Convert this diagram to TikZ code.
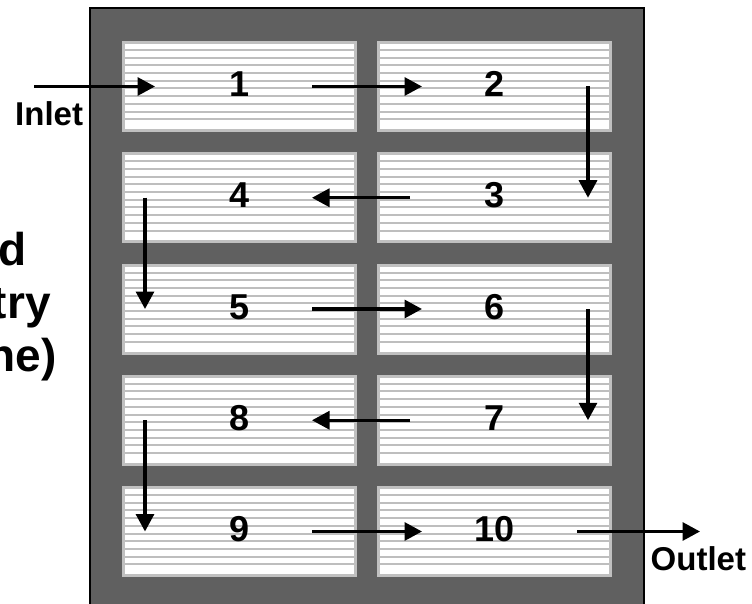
\documentclass[tikz,border=0pt]{standalone}
\usepackage{fontspec}
\setmainfont{Liberation Sans}
\usetikzlibrary{arrows.meta}
\definecolor{panel}{HTML}{606060}
\definecolor{boxgray}{HTML}{C0C0C0}
\definecolor{stripegray}{HTML}{BEBEBE}
\begin{document}
\begin{tikzpicture}[x=1pt,y=-1pt,
  stripe/.style={draw=stripegray, line width=2pt},
  cell/.style={draw=boxgray, line width=3pt, fill=white, minimum width=232pt,
    minimum height=88pt, inner sep=0pt,
    path picture={\foreach \k in {0,...,9}{\pgfmathsetmacro\yy{7.5+7.7*\k}
      \draw[stripe] ([yshift=-\yy pt]path picture bounding box.north west) --
        ([yshift=-\yy pt]path picture bounding box.north east);}}},
  num/.style={anchor=base, inner sep=0pt, font=\fontsize{36}{40}\selectfont\bfseries},
  lbl/.style={inner sep=0pt, font=\fontsize{33}{36}\selectfont\bfseries},
  side/.style={inner sep=0pt, anchor=base east, font=\fontsize{46}{50}\selectfont\bfseries},
  flow/.style={line width=3.2pt, -{Triangle[length=17.5pt,width=18pt]}}]
\useasboundingbox (0,0) rectangle (752,604);
\clip (0,0) rectangle (752,604);
\draw[fill=panel, line width=2pt] (89.5,8.5) rectangle (643.5,640);
\foreach \n/\cx/\cy in {1/239.5/86.5, 2/494.5/86.5, 3/494.5/197.75, 4/239.5/197.75,
  5/239.5/309, 6/494.5/309, 7/494.5/420.25, 8/239.5/420.25, 9/239.5/531.5, 10/494.5/531.5}{
  \node[cell] (b\n) at (\cx,\cy) {};
  \node[num] (t\n) at ([yshift=-10pt]b\n.center) {\n};
}
\coordinate (inS) at (34,86.5);
\coordinate (outE) at (700,531.5);
\draw[flow] (inS) -- ([xshift=-84.5pt]b1.center);
\draw[flow] ([xshift=72.5pt]b1.center) -- ([xshift=-72.5pt]b2.center);
\draw[flow] ([xshift=93.5pt]b2.center) -- ([xshift=93.5pt]b3.center);
\draw[flow] ([xshift=-84.5pt]b3.center) -- ([xshift=72.5pt]b4.center);
\draw[flow] ([xshift=-94.5pt]b4.center) -- ([xshift=-94.5pt]b5.center);
\draw[flow] ([xshift=72.5pt]b5.center) -- ([xshift=-72.5pt]b6.center);
\draw[flow] ([xshift=93.5pt]b6.center) -- ([xshift=93.5pt]b7.center);
\draw[flow] ([xshift=-84.5pt]b7.center) -- ([xshift=72.5pt]b8.center);
\draw[flow] ([xshift=-94.5pt]b8.center) -- ([xshift=-94.5pt]b9.center);
\draw[flow] ([xshift=72.5pt]b9.center) -- ([xshift=-72.5pt]b10.center);
\draw[flow] ([xshift=82.5pt]b10.center) -- (outE);
\node[lbl, anchor=base west] (inlet) at (15,126) {Inlet};
\node[lbl, anchor=base west] (outlet) at (650.5,570) {Outlet};
\node[side] (s1) at (26.5,265) {d};
\node[side] (s2) at (51,318) {try};
\node[side] (s3) at (57,371) {ne)};
\end{tikzpicture}
\end{document}
